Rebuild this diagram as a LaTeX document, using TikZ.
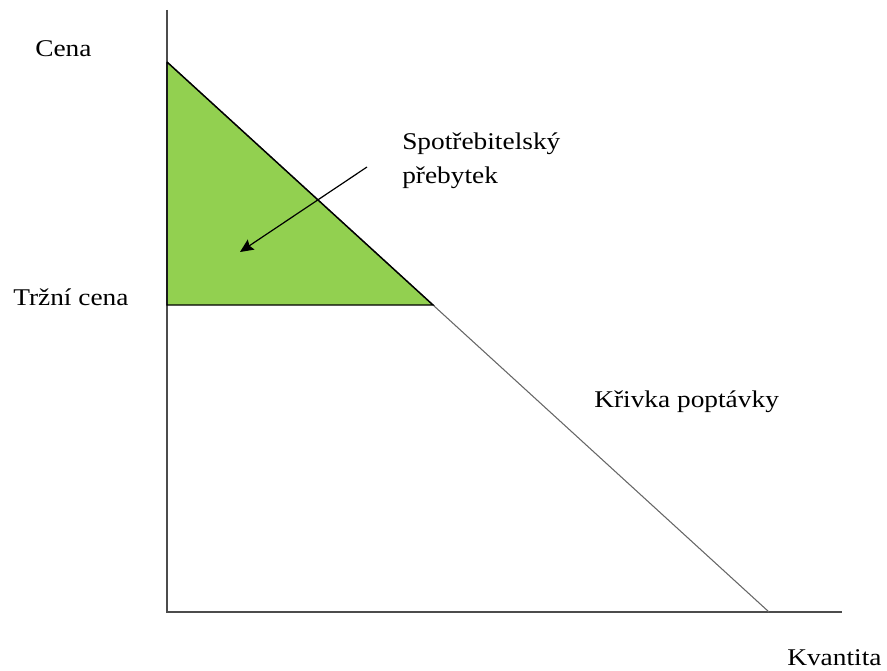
\documentclass[tikz,border=0pt]{standalone}
\usepackage{fontspec}
\setmainfont[FakeStretch=1.14]{Liberation Serif}
\usetikzlibrary{arrows.meta}
\definecolor{surplus}{HTML}{92D050}
\begin{document}
\begin{tikzpicture}[x=0.75pt,y=-0.75pt,
  axis/.style={draw=black!70,line width=0.9pt},
  curve/.style={draw=black!60,line width=0.8pt},
  lbl/.style={anchor=base west,inner sep=0pt,font=\fontsize{18}{22}\selectfont},
  pointer/.style={draw=black,line width=0.9pt,-{Stealth[length=10pt,width=9pt,inset=1.5pt]}}]
\useasboundingbox (0,0) rectangle (887,670);
% key points of the diagram
\coordinate (top) at (167,10);
\coordinate (origin) at (167,612);
\coordinate (xend) at (842,612);
\coordinate (dtop) at (167,62);
\coordinate (dbot) at (769,612);
\coordinate (pleft) at (167,305);
\coordinate (pright) at (433,305);
% consumer surplus area
\fill[surplus] (dtop) -- (pleft) -- (pright) -- cycle;
% axes
\draw[axis] (top) -- (origin) -- (xend);
% demand curve
\draw[curve] (dtop) -- (dbot);
% edges of the surplus triangle
\draw[black,line width=1.1pt] (dtop) -- (pleft) -- (pright) -- (dtop);
% labels
\node[lbl] (cena) at (35,57) {Cena};
\node[lbl] (trzni) at (13,305) {Tržní cena};
\node[lbl] (sp1) at (402,150) {Spotřebitelský};
\node[lbl] (sp2) at (402,184) {přebytek};
\node[lbl] (krivka) at (594,407) {Křivka poptávky};
\node[lbl] (kvant) at (787,665) {Kvantita};
% arrow to the surplus area
\coordinate (astart) at (367,167);
\coordinate (aend) at (240,252);
\draw[pointer] (astart) -- (aend);
\end{tikzpicture}
\end{document}
